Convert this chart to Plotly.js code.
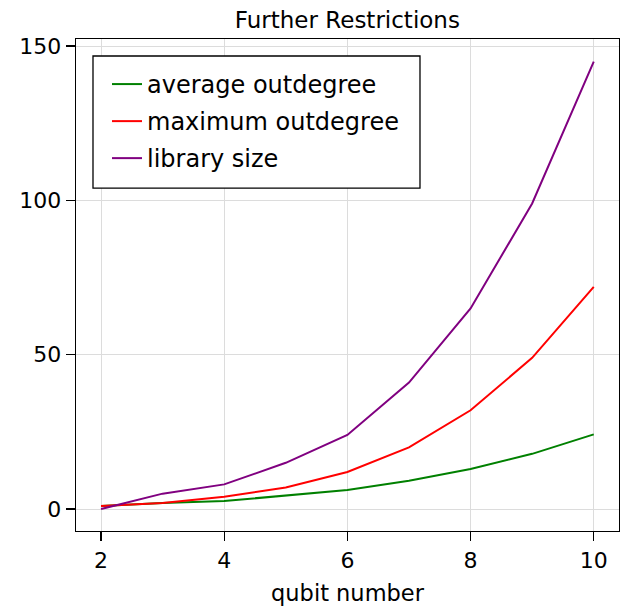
<!DOCTYPE html>
<html>
<head>
<meta charset="utf-8">
<script src="https://cdn.plot.ly/plotly-3.0.1.min.js"></script>
<style>html,body{margin:0;padding:0;background:#fff;}#chart{width:635px;height:610px;}</style>
</head>
<body>
<div id="chart"></div>
<script>
const qubits = [2, 3, 4, 5, 6, 7, 8, 9, 10];
const averageOutdegree = [1, 2, 2.6, 4.3, 6.2, 9.2, 13, 17.9, 24.2];
const maximumOutdegree = [1, 2, 4, 7, 12, 20, 32, 49, 72];
const librarySize = [0, 5, 8, 15, 24, 41, 65, 99, 145];
const seriesNames = ["average outdegree", "maximum outdegree", "library size"];
const seriesColors = ["#008000", "#ff0000", "#800080"];
const xTicks = [2, 4, 6, 8, 10];
const yTicks = [0, 50, 100, 150];

const font = "DejaVu Sans, sans-serif";
const ys = [averageOutdegree, maximumOutdegree, librarySize];
const legendIds = ["legend", "legend2", "legend3"];
const legendTops = [0.9533, 0.878, 0.8028];
const traces = ys.map((y, i) => ({
  x: qubits, y: y, type: "scatter", mode: "lines", name: seriesNames[i],
  legend: legendIds[i],
  line: {color: seriesColors[i], width: 2}
}));

const axisCommon = {
  showline: true, linecolor: "#000", linewidth: 1.3, mirror: true,
  ticks: "outside", ticklen: 9, tickwidth: 1.3, tickcolor: "#000",
  showgrid: true, gridcolor: "#dcdcdc", gridwidth: 1, zeroline: false,
  tickfont: {family: font, size: 22, color: "#000"}
};

const layout = {
  width: 635, height: 610,
  margin: {l: 76, r: 16, t: 39, b: 79},
  paper_bgcolor: "#fff", plot_bgcolor: "#fff",
  title: {text: "Further Restrictions", font: {family: font, size: 23, color: "#000"}, x: 0.547, xanchor: "center", y: 0.968, yanchor: "middle"},
  xaxis: Object.assign({}, axisCommon, {
    range: [1.594, 10.41], tickvals: xTicks, ticktext: xTicks.map(String),
    title: {text: "qubit number", font: {family: font, size: 22.5, color: "#000"}, standoff: 13}
  }),
  yaxis: Object.assign({}, axisCommon, {
    range: [-7.1, 152.3], tickvals: yTicks, ticktext: yTicks.map(String)
  }),
  shapes: [{
    type: "rect", xref: "paper", yref: "paper",
    x0: 0.0313, x1: 0.6335, y0: 0.697, y1: 0.9654,
    line: {color: "#000", width: 1.3}, fillcolor: "#fff", layer: "above"
  }],
  showlegend: true
};
legendIds.forEach((id, i) => {
  layout[id] = {
    x: 0.0571, y: legendTops[i], xanchor: "left", yanchor: "top",
    bgcolor: "rgba(0,0,0,0)", borderwidth: 0,
    font: {family: font, size: 24, color: "#000"},
    itemwidth: 30
  };
});

Plotly.newPlot("chart", traces, layout, {displayModeBar: false, staticPlot: true});
</script>
</body>
</html>
